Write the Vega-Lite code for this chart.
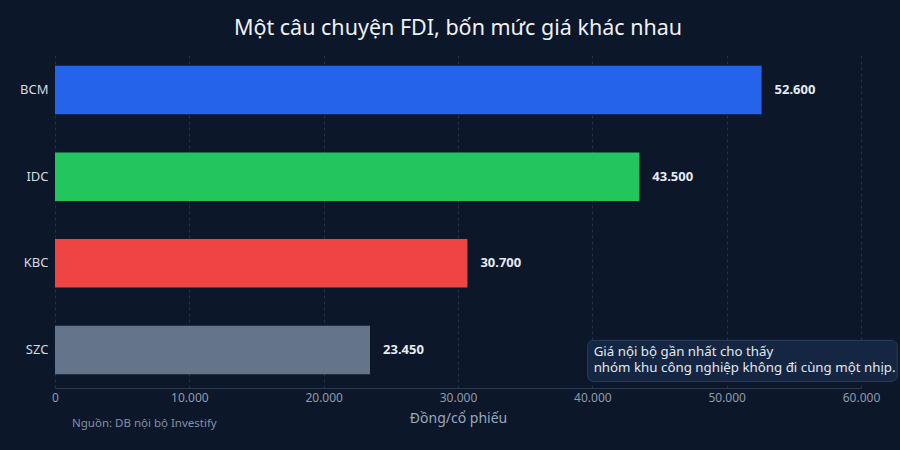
{
  "$schema": "https://vega.github.io/schema/vega-lite/v6.json",
  "autosize": {"type": "none"},
  "width": 806,
  "height": 336,
  "padding": {"left": 55, "top": 52, "right": 39, "bottom": 62},
  "background": "#0c1729",
  "title": {
    "text": "Một câu chuyện FDI, bốn mức giá khác nhau",
    "font": "Noto Sans",
    "fontSize": 21.5,
    "fontWeight": "normal",
    "color": "#eef2f7",
    "anchor": "middle",
    "offset": 13
  },
  "config": {
    "locale": {"number": {"decimal": ",", "thousands": ".", "grouping": [3], "currency": ["", " ₫"]}},
    "view": {"stroke": null},
    "font": "Noto Sans",
    "text": {"font": "Noto Sans"}
  },
  "datasets": {
    "prices": [
      {"ticker": "BCM", "price": 52600},
      {"ticker": "IDC", "price": 43500},
      {"ticker": "KBC", "price": 30700},
      {"ticker": "SZC", "price": 23450}
    ],
    "note": [
      {"x0": 39650, "x1": 62700, "ticker": "SZC", "lines": ["Giá nội bộ gần nhất cho thấy", "nhóm khu công nghiệp không đi cùng một nhịp."]}
    ],
    "source": [
      {"x0": 0, "ticker": "SZC", "label": "Nguồn: DB nội bộ Investify"}
    ]
  },
  "layer": [
    {
      "data": {"name": "prices"},
      "mark": {"type": "bar"},
      "encoding": {
        "y": {
          "field": "ticker", "type": "nominal", "sort": ["BCM", "IDC", "KBC", "SZC"],
          "scale": {"paddingInner": 0.44, "paddingOuter": 0.16},
          "axis": {"title": null, "domain": false, "ticks": false, "labelPadding": 7, "labelColor": "#d4dbe5", "labelFontSize": 13, "labelFont": "Noto Sans"}
        },
        "x": {
          "field": "price", "type": "quantitative",
          "scale": {"domain": [0, 60000], "nice": false},
          "axis": {
            "title": "Đồng/cổ phiếu", "titleColor": "#9aa8bb", "titleFontSize": 14, "titleFontWeight": "normal", "titleFont": "Noto Sans", "titlePadding": 8,
            "values": [0, 10000, 20000, 30000, 40000, 50000, 60000], "format": ",d",
            "labelColor": "#8e9bb0", "labelFontSize": 12, "labelFont": "Noto Sans", "labelPadding": 4, "labelFlush": false,
            "ticks": false, "domainColor": "#2c3a50",
            "grid": true, "gridColor": "#22304a", "gridDash": [3, 3], "gridWidth": 1
          }
        },
        "color": {
          "field": "ticker", "type": "nominal", "legend": null,
          "scale": {"domain": ["BCM", "IDC", "KBC", "SZC"], "range": ["#2563eb", "#22c55e", "#ef4444", "#64748b"]}
        }
      }
    },
    {
      "data": {"name": "prices"},
      "mark": {"type": "text", "align": "left", "baseline": "middle", "dx": 13, "fontSize": 13, "fontWeight": "bold", "color": "#e6ebf2"},
      "encoding": {
        "y": {"field": "ticker", "type": "nominal", "sort": ["BCM", "IDC", "KBC", "SZC"]},
        "x": {"field": "price", "type": "quantitative"},
        "text": {"field": "price", "type": "quantitative", "format": ",d"}
      }
    },
    {
      "data": {"name": "note"},
      "mark": {"type": "bar", "size": 41, "yOffset": 11, "fill": "#142641", "stroke": "#2a3e5c", "strokeWidth": 1, "cornerRadius": 6},
      "encoding": {
        "y": {"field": "ticker", "type": "nominal"},
        "x": {"field": "x0", "type": "quantitative"},
        "x2": {"field": "x1"}
      }
    },
    {
      "data": {"name": "note"},
      "mark": {"type": "text", "align": "left", "baseline": "middle", "dx": 6, "dy": 2, "fontSize": 13.3, "lineHeight": 16.5, "color": "#e2e8f0"},
      "encoding": {
        "y": {"field": "ticker", "type": "nominal"},
        "x": {"field": "x0", "type": "quantitative"},
        "text": {"field": "lines"}
      }
    },
    {
      "data": {"name": "source"},
      "mark": {"type": "text", "align": "left", "baseline": "middle", "dx": 17, "dy": 74, "fontSize": 11.5, "color": "#8390a5"},
      "encoding": {
        "y": {"field": "ticker", "type": "nominal"},
        "x": {"field": "x0", "type": "quantitative"},
        "text": {"field": "label"}
      }
    }
  ]
}
